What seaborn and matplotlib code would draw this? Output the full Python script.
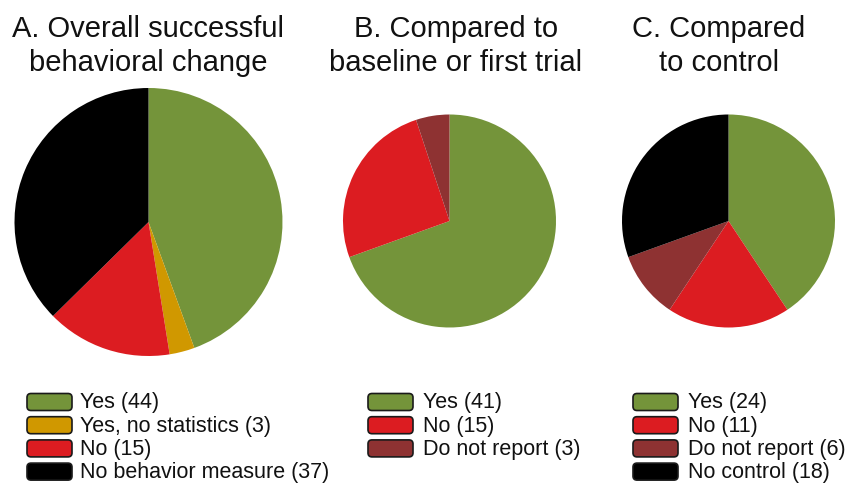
import matplotlib
matplotlib.use("Agg")
import matplotlib.pyplot as plt
from matplotlib.patches import FancyBboxPatch
import seaborn as sns

sns.set_theme(style="white")
plt.rcParams["font.family"] = ["Liberation Sans", "DejaVu Sans"]

# Panel titles
titles = ["A. Overall successful\nbehavioral change",
          "B. Compared to\nbaseline or first trial",
          "C. Compared\nto control"]

# Panel A: overall successful behavioral change
a_labels = ["Yes", "Yes, no statistics", "No", "No behavior measure"]
a_counts = [44, 3, 15, 37]

# Panel B: compared to baseline or first trial
b_labels = ["Yes", "No", "Do not report"]
b_counts = [41, 15, 3]

# Panel C: compared to control
c_labels = ["Yes", "No", "Do not report", "No control"]
c_counts = [24, 11, 6, 18]

palette = {
    "Yes": "#74943a",
    "Yes, no statistics": "#d09800",
    "No": "#dc1c21",
    "Do not report": "#8e3232",
    "No behavior measure": "#000000",
    "No control": "#000000",
}

W, H = 848, 485
fig = plt.figure(figsize=(W / 100, H / 100), dpi=100)
ax = fig.add_axes([0, 0, 1, 1])
ax.set_xlim(0, W)
ax.set_ylim(0, H)
ax.set_aspect("equal")
ax.axis("off")


def fy(y):
    # pixel row (from top) to axis y
    return H - y


panels = [
    (a_labels, a_counts, (148.5, 223), 134, 148, 27, 80),
    (b_labels, b_counts, (449.5, 222), 106.5, 456, 368, 423),
    (c_labels, c_counts, (728.5, 222), 106.5, 719, 633, 688),
]

for (labels, counts, center, radius, title_x, box_x, text_x), title in zip(panels, titles):
    ax.pie(counts, colors=[palette[l] for l in labels], startangle=90,
           counterclock=False, center=(center[0], fy(center[1])), radius=radius,
           wedgeprops=dict(linewidth=0), frame=False)
    ax.text(title_x, fy(15), title, ha="center", va="top", fontsize=21,
            linespacing=1.28, color="#111111")
    for i, (lab, n) in enumerate(zip(labels, counts)):
        yc = 403 + i * 23.2
        box = FancyBboxPatch((box_x + 2, fy(yc) - 6.5), 41, 13,
                             boxstyle="round,pad=2,rounding_size=4",
                             facecolor=palette[lab], edgecolor="#1a1a1a",
                             linewidth=1.2)
        ax.add_patch(box)
        ax.text(text_x, fy(yc), f"{lab} ({n})", ha="left", va="center",
                fontsize=15.5, color="#111111")

ax.set_xlim(0, W)
ax.set_ylim(0, H)
fig.savefig("out.png", dpi=100)
